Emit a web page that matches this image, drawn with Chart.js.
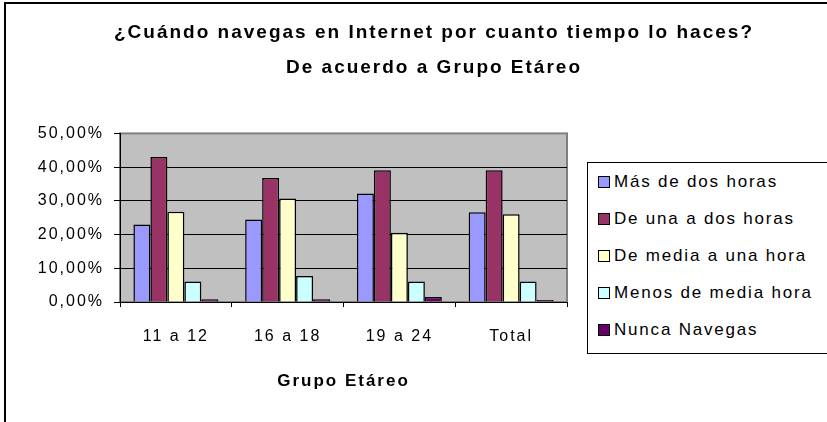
<!DOCTYPE html>
<html>
<head>
<meta charset="utf-8">
<title>Grupo Etáreo</title>
<script src="https://cdn.jsdelivr.net/npm/chart.js@4.4.0/dist/chart.umd.min.js"></script>
<style>
  html, body { margin: 0; padding: 0; overflow: hidden; background: #fff; }
  #frame { position: absolute; left: 4px; top: 2px; width: 900px; height: 500px;
           border-left: 2px solid #000; border-top: 2px solid #000; }
  #wrap { position: absolute; left: 0; top: 0; width: 868px; height: 422px; }
  #legend { position: absolute; left: 587px; top: 162px; width: 300px; height: 190px;
            border: 1px solid #000; background: #fff;
            font-family: "Liberation Sans", Arial, sans-serif; font-size: 17px; letter-spacing: 1.8px; }
  #legend ul { list-style: none; margin: 0; padding: 9px 0 0 10px; }
  #legend li { height: 20px; margin-bottom: 17px; display: flex; align-items: center; white-space: nowrap; }
  #legend .box { width: 10px; height: 10px; border: 1.5px solid #000; margin-right: 4px; }
</style>
</head>
<body>
<div id="frame"></div>
<div id="wrap"><canvas id="grupoChart"></canvas></div>
<div id="legend"><ul></ul></div>
<script>
// data (percent)
var categories = ['11 a 12', '16 a 18', '19 a 24', 'Total'];
var masDeDosHoras = [23.0, 24.5, 32.2, 26.6];
var deUnaADosHoras = [43.0, 36.8, 39.1, 39.1];
var deMediaAUnaHora = [26.8, 30.7, 20.5, 26.0];
var menosDeMediaHora = [6.1, 7.7, 6.1, 6.1];
var nuncaNavegas = [0.8, 0.8, 1.5, 0.6];

var fontFamily = '"Liberation Sans", Arial, sans-serif';
Chart.defaults.font.family = fontFamily;
Chart.defaults.color = '#000';

// gray plot area like the old excel charts
var plotBackground = {
	id: 'plotBackground',
	beforeDraw: function(chart) {
		var ctx = chart.ctx, a = chart.chartArea;
		ctx.save();
		ctx.fillStyle = '#c0c0c0';
		ctx.fillRect(a.left, a.top, a.width, a.height);
		ctx.strokeStyle = '#808080';
		ctx.lineWidth = 2;
		ctx.strokeRect(a.left, a.top, a.width, a.height);
		ctx.restore();
	}
};

// the reference text is spread out a bit
var spacedText = {
	id: 'spacedText',
	beforeLayout: function(chart) { chart.ctx.letterSpacing = '2px'; },
	beforeDraw: function(chart) { chart.ctx.letterSpacing = '2px'; }
};

var htmlLegend = {
	id: 'htmlLegend',
	afterUpdate: function(chart) {
		var ul = document.querySelector('#legend ul');
		ul.innerHTML = '';
		chart.data.datasets.forEach(function(ds) {
			var li = document.createElement('li');
			var box = document.createElement('span');
			box.className = 'box';
			box.style.background = ds.backgroundColor;
			li.appendChild(box);
			li.appendChild(document.createTextNode(ds.label));
			ul.appendChild(li);
		});
	}
};

function serie(label, color, data) {
	return {
		label: label,
		data: data,
		backgroundColor: color,
		borderColor: '#000',
		borderWidth: 1.5,
		categoryPercentage: 0.76,
		barPercentage: 1
	};
}

var ctx = document.getElementById('grupoChart').getContext('2d');
var chart = new Chart(ctx, {
	type: 'bar',
	data: {
		labels: categories,
		datasets: [
			serie('Más de dos horas', '#9999ff', masDeDosHoras),
			serie('De una a dos horas', '#993366', deUnaADosHoras),
			serie('De media a una hora', '#ffffcc', deMediaAUnaHora),
			serie('Menos de media hora', '#ccffff', menosDeMediaHora),
			serie('Nunca Navegas', '#660066', nuncaNavegas)
		]
	},
	options: {
		responsive: true,
		maintainAspectRatio: false,
		animation: false,
		layout: { padding: 0 },
		plugins: {
			legend: { display: false },
			tooltip: { enabled: false },
			title: {
				display: true,
				text: ['¿Cuándo navegas en Internet por cuanto tiempo lo haces?', 'De acuerdo a Grupo Etáreo'],
				color: '#000',
				font: { size: 19, weight: 'bold', lineHeight: 1.8 },
				padding: { top: 16, bottom: 49 }
			}
		},
		scales: {
			x: {
				grid: { display: true, drawOnChartArea: false, drawTicks: true, tickLength: 5, tickColor: '#000', offset: true },
				border: { color: '#000', width: 1 },
				ticks: { color: '#000', font: { size: 16 }, padding: 20 },
				title: {
					display: true,
					text: 'Grupo Etáreo',
					color: '#000',
					font: { size: 17, weight: 'bold' },
					padding: { top: 0, bottom: 30 }
				},
				afterFit: function(scale) { scale.height = 120; }
			},
			y: {
				min: 0,
				max: 50,
				ticks: {
					stepSize: 10,
					color: '#000',
					font: { size: 16 },
					padding: 10,
					callback: function(v) { return v.toFixed(2).replace('.', ',') + '%'; }
				},
				grid: {
					color: function(c) { return c.tick && c.tick.value === 50 ? '#808080' : '#000'; },
					tickColor: '#000',
					tickLength: 6,
					lineWidth: 1
				},
				border: { color: '#000', width: 1 },
				afterFit: function(scale) { scale.width = 120; }
			},
			// empty right axis, keeps room for the legend box
			legendSpace: {
				position: 'right',
				display: true,
				grid: { drawOnChartArea: false, drawTicks: false },
				border: { display: false },
				ticks: { display: false },
				afterFit: function(scale) { scale.width = 301; }
			}
		}
	},
	plugins: [spacedText, plotBackground, htmlLegend]
});
</script>
</body>
</html>
